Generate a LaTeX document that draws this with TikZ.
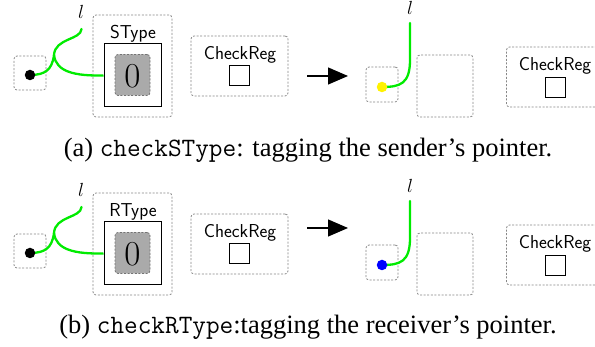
\RequirePackage{fix-cm}
\documentclass[tikz,border=0pt]{standalone}
\usepackage{fontspec}
\setmainfont{Liberation Serif}
\usetikzlibrary{arrows.meta}
\definecolor{wire}{RGB}{0,235,0}
\definecolor{dgray}{RGB}{135,135,135}
\definecolor{fgray}{RGB}{170,170,170}
\begin{document}
\begin{tikzpicture}[x=1pt,y=-1pt,
  dbox/.style={draw=dgray,line width=0.8pt,dash pattern=on 2pt off 1.6pt,rounded corners=3pt,inner sep=0pt},
  sbox/.style={draw=black,line width=1pt,inner sep=0pt},
  gbox/.style={draw=dgray!85!black,fill=fgray,line width=0.8pt,dash pattern=on 2pt off 1.6pt,rounded corners=3pt,inner sep=0pt},
  tinysq/.style={draw=black,line width=0.9pt,inner sep=0pt,minimum width=20pt,minimum height=20pt},
  sflab/.style={font=\sffamily\fontsize{18.7}{21}\selectfont,inner sep=0pt},
  zlab/.style={font=\fontsize{35}{38}\selectfont,inner sep=0pt},
  llab/.style={font=\fontsize{19}{22}\selectfont,inner sep=0pt},
  wirel/.style={draw=wire,line width=2.3pt},
  dotn/.style={circle,inner sep=0pt,minimum size=10.5pt},
  bigarrow/.style={line width=1.2pt,-{Triangle[length=20pt,width=17pt]}},
  captext/.style={font=\fontsize{26.5}{30}\selectfont,inner sep=0pt}
]
\clip (0,0) rectangle (595,347);
\fill[white] (0,0) rectangle (595,347);

% ---------- panel (a) ----------
\begin{scope}
\node[dbox,minimum width=32pt,minimum height=34pt] (a1box) at (30,73) {};
\coordinate (a1dc) at (30,75);
\node[dbox,minimum width=79pt,minimum height=102pt] (a1outer) at (132.5,66) {};
\node[sflab] (a1type) at (133,34) {SType};
\node[sbox,minimum width=57pt,minimum height=63pt] (a1inner) at (132.5,75.5) {};
\node[gbox,minimum width=35pt,minimum height=41pt] (a1gray) at (132.5,75) {};
\node[zlab] (a1zero) at (132.5,76) {$0$};
\node[llab] (a1l) at (81,12) {$l$};
\coordinate (a1top) at (81.5,29);
\coordinate (a1fork) at (54,55);
\draw[wirel,line cap=round] (a1top) .. controls (81,40) and (55,38) .. (a1fork) .. controls (52,70) and (45,75) .. (a1dc);
\draw[wirel] (a1fork) .. controls (56,72) and (75,76) .. (a1inner.west);
\node[dotn,fill=black] (a1dot) at (a1dc) {};
\node[dbox,minimum width=97pt,minimum height=60pt] (a1chk) at (239.5,66) {};
\node[sflab] (a1chkl) at (240,55) {CheckReg};
\node[tinysq] (a1sq) at (239.5,75.5) {};
\coordinate (a1as) at (307,76);
\coordinate (a1ae) at (348,76);
\draw[bigarrow] (a1as) -- (a1ae);
\node[dbox,minimum width=32pt,minimum height=35pt] (a2box) at (382,84.5) {};
\coordinate (a2dc) at (382,87);
\node[llab] (a2l) at (410,8) {$l$};
\coordinate (a2top) at (410,23);
\draw[wirel,line cap=round] (a2top) -- (410,60) .. controls (410,84) and (400,87) .. (a2dc);
\node[dotn,fill=yellow] (a2dot) at (a2dc) {};
\node[dbox,minimum width=56pt,minimum height=62pt] (a2empty) at (445,86) {};
\node[dbox,minimum width=97pt,minimum height=60pt] (a2chk) at (555,77) {};
\node[sflab] (a2chkl) at (555,66) {CheckReg};
\node[tinysq] (a2sq) at (555,87) {};
\node[captext] (capa) at (308,150) {(a) \texttt{checkSType}: tagging the sender’s pointer.};
\end{scope}

% ---------- panel (b) ----------
\begin{scope}[shift={(0,178)}]
\node[dbox,minimum width=32pt,minimum height=34pt] (b1box) at (30,73) {};
\coordinate (b1dc) at (30,75);
\node[dbox,minimum width=79pt,minimum height=102pt] (b1outer) at (132.5,66) {};
\node[sflab] (b1type) at (133,34) {RType};
\node[sbox,minimum width=57pt,minimum height=63pt] (b1inner) at (132.5,75.5) {};
\node[gbox,minimum width=35pt,minimum height=41pt] (b1gray) at (132.5,75) {};
\node[zlab] (b1zero) at (132.5,76) {$0$};
\node[llab] (b1l) at (81,12) {$l$};
\coordinate (b1top) at (81.5,29);
\coordinate (b1fork) at (54,55);
\draw[wirel,line cap=round] (b1top) .. controls (81,40) and (55,38) .. (b1fork) .. controls (52,70) and (45,75) .. (b1dc);
\draw[wirel] (b1fork) .. controls (56,72) and (75,76) .. (b1inner.west);
\node[dotn,fill=black] (b1dot) at (b1dc) {};
\node[dbox,minimum width=97pt,minimum height=60pt] (b1chk) at (239.5,66) {};
\node[sflab] (b1chkl) at (240,55) {CheckReg};
\node[tinysq] (b1sq) at (239.5,75.5) {};
\coordinate (b1as) at (307,50);
\coordinate (b1ae) at (348,50);
\draw[bigarrow] (b1as) -- (b1ae);
\node[dbox,minimum width=32pt,minimum height=35pt] (b2box) at (382,84.5) {};
\coordinate (b2dc) at (382,87);
\node[llab] (b2l) at (410,8) {$l$};
\coordinate (b2top) at (410,23);
\draw[wirel,line cap=round] (b2top) -- (410,60) .. controls (410,84) and (400,87) .. (b2dc);
\node[dotn,fill=blue] (b2dot) at (b2dc) {};
\node[dbox,minimum width=56pt,minimum height=62pt] (b2empty) at (445,86) {};
\node[dbox,minimum width=97pt,minimum height=60pt] (b2chk) at (555,77) {};
\node[sflab] (b2chkl) at (555,66) {CheckReg};
\node[tinysq] (b2sq) at (555,87) {};
\node[captext] (capb) at (308,149) {(b) \texttt{checkRType}:tagging the receiver’s pointer.};
\end{scope}
\end{tikzpicture}
\end{document}
